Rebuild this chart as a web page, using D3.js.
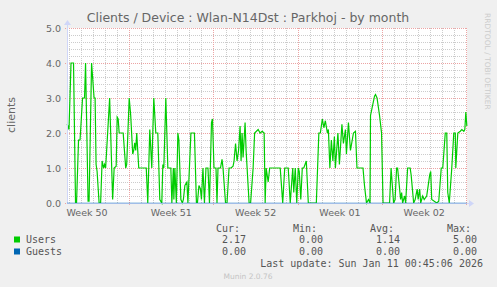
<!DOCTYPE html>
<html>
<meta charset="utf-8">
<style>
  body { margin: 0; background: #f0f0f0; }
  svg text { font-family: "DejaVu Sans", sans-serif; fill: #666; }
  .mono { font-family: "DejaVu Sans Mono", monospace; fill: #555; font-size: 10px; }
</style>
<body>
<div id="chart"></div>
<script src="https://cdn.jsdelivr.net/npm/d3@7"></script>
<script>
// hours since graph start (2h per sample)
var hours = [0,2,4,8,13,17,19,23,26,31,35,37,42,44,49,54,56,58,60,64,67,70,73,75,77,85,91,94,98,100,102,104,112,117,119,124,127,131,133,135,137,139,141,143,158,161,165,169,173,177,181,185,189,191,193,197,201,207,209,212,213,215,218,221,223,227,230,232,235,239,241,247,254,258,260,263,266,268,271,274,277,281,284,288,290,293,297,299,301,306,309,311,316,319,323,327,331,333,336,339,342,345,347,349,351,355,357,359,363,366,371,374,381,385,389,393,395,397,401,404,425,430,434,441,445,450,452,455,458,461,463,466,469,472,477,481,497,502,505,509,512,515,519,521,524,527,530,533,535,540,543,548,551,555,557,561,565,571,575,578,590,593,597,601,604,605,613,615,618,623,627,630,643,646,651,654,657,659,665,667,669,673,675,679,684,686,691,694,698,700,703,705,709,712,717,723,725,727,737,741,746,749,754,757,759,762,767,771,774,775,779,784,787,791,793,795,797];
var users = [2.25,2.2,2.1,4.0,4.0,0,0,1.8,1.8,3.0,3.0,4.0,0.05,0.05,4.0,3.0,3.0,1.1,0.9,0,0,1.2,1.0,1.1,1.0,3.0,0.1,1.0,1.05,2.45,2.4,2.0,2.0,1.0,1.1,3.0,2.5,1.4,1.5,1.72,1.5,2.0,1.5,1.0,1.0,0,2.1,1.0,3.0,2.0,2.0,0.1,0,1.1,1.0,3.0,1.0,1.0,0,1.0,0.1,1.0,0,2.0,1.8,0.1,0,0.1,0.5,0.6,0,2.0,2.0,0,0,0.5,0.4,0.1,1.0,0,1.0,1.0,0,2.3,2.4,1.0,1.0,0,1.0,1.0,1.25,1.0,0,0,1.0,1.0,1.05,1.2,1.7,1.2,1.5,2.2,1.2,2.0,1.3,2.3,1.5,1.0,0,0,1.0,2.0,2.1,2.0,2.05,2.0,0,1.0,0.6,1.0,1.0,0,1.0,1.0,0,1.0,0.3,1.0,0,1.0,0.9,0.1,1.0,1.0,1.2,0,0,2.0,2.0,2.4,2.15,2.35,2.0,2.1,1.0,1.8,1.2,1.9,1.0,2.0,1.1,2.25,1.7,2.1,1.4,2.3,1.5,2.0,2.05,1.0,1.0,0.5,0,0.1,0,2.5,3.05,3.1,3.0,2.5,2.0,0,0,1.0,0,0.1,1.0,1.0,0.1,0.3,0,0.2,0,1.0,1.0,0.8,0,0.1,0.4,0.1,0.4,0,0.2,0.1,0.2,0.8,0.9,0.1,0,0.05,1.0,1.0,2.0,2.0,0.3,0,1.0,2.0,2.0,1.0,2.0,2.05,2.1,2.05,2.1,2.6,2.2];
var guestHours = [0, 797];
var guests = [0, 0];

var yTicks = [0, 1, 2, 3, 4, 5];
var seriesNames = ["Users", "Guests"];
var seriesColors = ["#00cc00", "#0066b3"];
var statHeads = ["Cur:", "Min:", "Avg:", "Max:"];
var userStats = ["2.17", "0.00", "1.14", "5.00"];
var guestStats = ["0.00", "0.00", "0.00", "0.00"];

var W = 497, H = 287;
var pL = 67, pR = 467, pT = 28, pB = 203;

var start = new Date(Date.UTC(2025, 11, 9, 20, 0));
var end = new Date(Date.UTC(2026, 0, 12, 1, 20));

var svg = d3.select("#chart").append("svg")
    .attr("width", W).attr("height", H)
    .style("display", "block");

svg.append("rect").attr("width", W).attr("height", H).attr("fill", "#f0f0f0");
svg.append("rect").attr("x", pL).attr("y", pT)
    .attr("width", pR - pL).attr("height", pB - pT).attr("fill", "#fff");

var x = d3.scaleUtc().domain([start, end]).range([pL, pR]);
var y = d3.scaleLinear().domain([0, 5]).range([pB, pT]);
var t = function(h) { return new Date(start.getTime() + h * 3600e3); };

// minor grid
var g = svg.append("g").attr("shape-rendering", "crispEdges");
var mondays = d3.utcMonday.range(start, end).map(Number);
d3.utcDay.range(start, end).forEach(function(d) {
  if (mondays.indexOf(+d) >= 0) return;
  var xx = Math.round(x(d)) + 0.5;
  g.append("line").attr("x1", xx).attr("x2", xx).attr("y1", pT).attr("y2", pB)
    .attr("stroke", "#cccccc").attr("stroke-dasharray", "1,1");
});
d3.range(0, 5.01, 0.2).forEach(function(v) {
  if (Math.abs(v - Math.round(v)) < 1e-6) return;
  var yy = Math.round(y(v)) + 0.5;
  g.append("line").attr("x1", pL).attr("x2", pR).attr("y1", yy).attr("y2", yy)
    .attr("stroke", "#cccccc").attr("stroke-dasharray", "1,1");
});
// major grid
yTicks.forEach(function(v) {
  var yy = Math.round(y(v)) + 0.5;
  g.append("line").attr("x1", pL - 2).attr("x2", pR).attr("y1", yy).attr("y2", yy)
    .attr("stroke", "#eca4a4").attr("stroke-dasharray", "1,1");
});
mondays.forEach(function(d) {
  var xx = Math.round(x(d)) + 0.5;
  g.append("line").attr("x1", xx).attr("x2", xx).attr("y1", pT).attr("y2", pB + 3)
    .attr("stroke", "#eca4a4").attr("stroke-dasharray", "1,1");
});

// y labels
svg.append("g").selectAll("text").data(yTicks).enter().append("text")
    .attr("x", pL - 6).attr("y", function(d) { return y(d) + 3.5; })
    .attr("text-anchor", "end").style("font-size", "9.5px")
    .text(function(d) { return d.toFixed(1); });

// week labels at mid-week
var fmt = d3.utcFormat("Week %V");
d3.utcMonday.range(d3.utcMonday.floor(start), end).forEach(function(m) {
  var mid = new Date(+m + 3.5 * 864e5);
  if (mid < start || mid > end) return;
  svg.append("text").attr("x", x(mid)).attr("y", 216)
    .attr("text-anchor", "middle").style("font-size", "9.5px").text(fmt(m));
});

// series
var line = d3.line().x(function(d) { return x(t(d[0])); }).y(function(d) { return y(d[1]); });
svg.append("path").datum(d3.zip(hours, users))
    .attr("d", line).attr("fill", "none").attr("stroke", seriesColors[0]).attr("stroke-width", 1.2);

// axes
svg.append("line").attr("x1", pL).attr("x2", pR + 2).attr("y1", pB + 0.5).attr("y2", pB + 0.5)
    .attr("stroke", "#cfd6f8");
svg.append("path").attr("d", "M" + (pR + 2) + "," + (pB - 3) + "L" + (pR + 7) + "," + (pB + 0.5) + "L" + (pR + 2) + "," + (pB + 4) + "Z")
    .attr("fill", "#cfd6f8");
svg.append("line").attr("x1", pL + 0.5).attr("x2", pL + 0.5).attr("y1", pB).attr("y2", pT - 3)
    .attr("stroke", "#cfd6f8");
svg.append("path").attr("d", "M" + (pL - 3) + "," + (pT - 3) + "L" + (pL + 0.5) + "," + (pT - 8) + "L" + (pL + 4) + "," + (pT - 3) + "Z")
    .attr("fill", "#cfd6f8");
svg.append("path").datum(d3.zip(guestHours, guests))
    .attr("d", line).attr("fill", "none").attr("stroke", seriesColors[1]).attr("stroke-opacity", 0.45).attr("stroke-width", 1);

// title
svg.append("text").attr("x", 248).attr("y", 22).attr("text-anchor", "middle")
    .style("font-size", "12.5px").text("Clients / Device : Wlan-N14Dst : Parkhoj - by month");
svg.append("text").attr("transform", "translate(15,115) rotate(-90)")
    .attr("text-anchor", "middle").style("font-size", "11px").text("clients");
svg.append("text").attr("transform", "translate(485,13) rotate(90)")
    .style("font-size", "7.5px").style("fill", "#cccccc").text("RRDTOOL / TOBI OETIKER");

// legend
var colRight = [246, 323, 400, 477];
statHeads.forEach(function(s, i) {
  svg.append("text").attr("class", "mono").attr("x", colRight[i] - 6).attr("y", 232)
    .attr("text-anchor", "end").text(s);
});
[userStats, guestStats].forEach(function(row, r) {
  var yy = 243 + r * 12;
  svg.append("rect").attr("x", 14).attr("y", yy - 6.5).attr("width", 6).attr("height", 6)
    .attr("fill", seriesColors[r]);
  svg.append("text").attr("class", "mono").attr("x", 26).attr("y", yy).text(seriesNames[r]);
  row.forEach(function(v, i) {
    svg.append("text").attr("class", "mono").attr("x", colRight[i]).attr("y", yy)
      .attr("text-anchor", "end").text(v);
  });
});
svg.append("text").attr("class", "mono").attr("x", 483).attr("y", 267).attr("text-anchor", "end")
    .text("Last update: Sun Jan 11 00:45:06 2026");
svg.append("text").attr("x", 248).attr("y", 279).attr("text-anchor", "middle")
    .style("font-size", "7.5px").style("fill", "#c4c4c4").text("Munin 2.0.76");
</script>
</body>
</html>
